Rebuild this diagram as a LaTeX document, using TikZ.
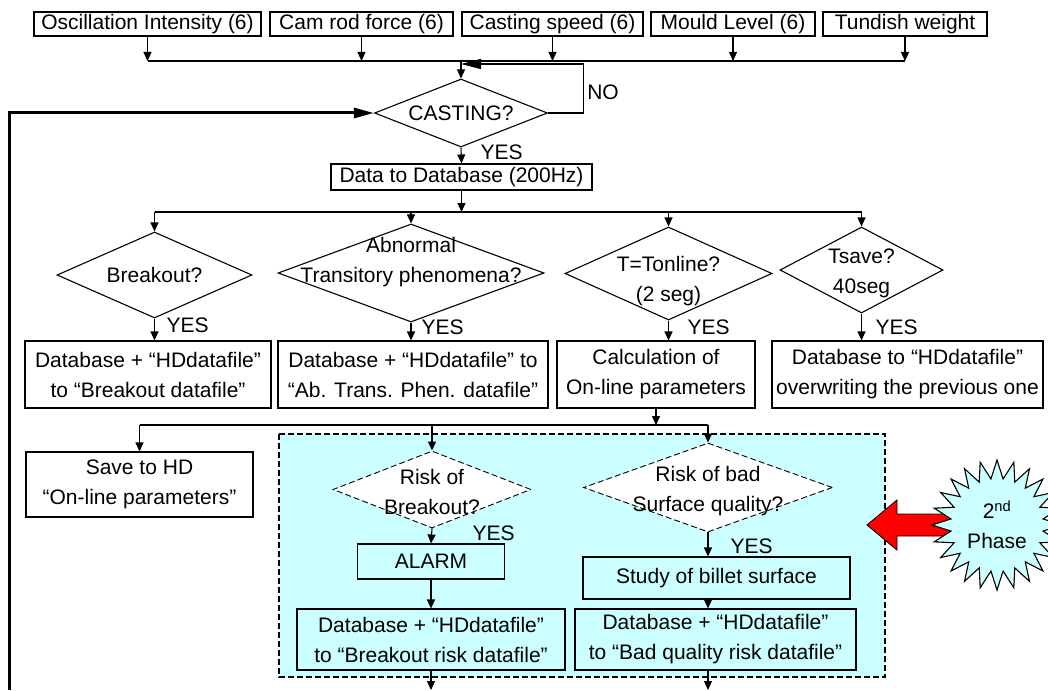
\documentclass[tikz,border=0pt]{standalone}
\usepackage{fontspec}
\setmainfont{Liberation Sans}
\usetikzlibrary{shapes.geometric,arrows.meta}
\definecolor{phasecyan}{HTML}{CCFFFF}

\begin{document}
\begin{tikzpicture}[x=1pt,y=-1pt,line width=1.1pt,
    font=\fontsize{21}{30}\selectfont,>={Triangle[length=9pt,width=8pt]}]

    \tikzset{boxstyle/.style={draw,shape=rectangle,inner sep=0pt,align=center},
        topbox/.style={boxstyle,minimum height=24pt,text height=15pt,text depth=4pt},
        decision/.style={draw,shape=diamond,inner sep=0pt,fill=white},
        riskdecision/.style={decision,line width=0.9pt,dash pattern=on 6pt off 3pt},
        yeslabel/.style={anchor=west,inner sep=0pt},
        every label/.style={align=center,inner sep=0pt},
        bigarrow/.style={-{Triangle[length=20pt,width=10pt]}}}

    \useasboundingbox (0,0) rectangle (1048,690);

    % 2nd phase area
    \draw[fill=phasecyan,line width=1.6pt,dash pattern=on 6pt off 3pt] (279,434) rectangle (885,677);

    \node[topbox,minimum width=227pt] (osc) at (147.5,24) {Oscillation Intensity (6)};
    \node[topbox,minimum width=183pt] (cam) at (361.5,24) {Cam rod force (6)};
    \node[topbox,minimum width=181pt] (speed) at (552.5,24) {Casting speed (6)};
    \node[topbox,minimum width=164pt] (mould) at (733,24) {Mould Level (6)};
    \node[topbox,minimum width=164pt] (tundish) at (905,24) {Tundish weight};
    \coordinate (bus1) at (0,61);

    \node[decision,minimum width=173pt,minimum height=68pt,label=center:CASTING?] (cast) at (461,113) {};
    \coordinate (loopend) at (461,64);
    \coordinate (fb) at (9,690);
    \node (no) at (603,92) {NO};
    \node[yeslabel] (yes0) at (480,152) {YES};

    \node[boxstyle,minimum width=261pt,minimum height=26pt] (data) at (461.5,177) {Data to Database (200Hz)};
    \coordinate (bus2) at (0,212);

    \node[decision,minimum width=195pt,minimum height=86pt,label=center:Breakout?] (brk) at (154.5,275) {};
    \node[decision,minimum width=266pt,minimum height=98pt,
        label={[yshift=11pt]center:{Abnormal\\Transitory phenomena?}}] (abn) at (411,273) {};
    \node[decision,minimum width=207pt,minimum height=93pt,
        label={[yshift=-8pt]center:{T=Tonline?\\(2 seg)}}] (ton) at (668.5,273.5) {};
    \node[decision,minimum width=163pt,minimum height=86pt,
        label={[yshift=-3pt]center:{Tsave?\\40seg}}] (tsv) at (861.5,270) {};
    \node[yeslabel] (yes1) at (166,325) {YES};
    \node[yeslabel] (yes2) at (421,327) {YES};
    \node[yeslabel] (yes3) at (687,327) {YES};
    \node[yeslabel] (yes4) at (875,327) {YES};

    \node[boxstyle,minimum width=246pt,minimum height=67pt] (dbA) at (148,374.5) {Database + “HDdatafile”\\to “Breakout datafile”};
    \node[boxstyle,minimum width=270pt,minimum height=67pt] (dbB) at (413,374.5) {Database + “HDdatafile” to\\“Ab. Trans. Phen. datafile”};
    \node[boxstyle,minimum width=198pt,minimum height=67pt] (calc) at (656,374.5) {Calculation of\\On-line parameters};
    \node[boxstyle,minimum width=271pt,minimum height=67pt] (dbD) at (907.5,374.5) {Database to “HDdatafile”\\overwriting the previous one};
    \coordinate (bus3) at (0,425);

    \node[boxstyle,minimum width=227pt,minimum height=65pt] (save) at (139.5,484.5) {Save to HD\\“On-line parameters”};
    \node[riskdecision,minimum width=198pt,minimum height=77pt,
        label={[yshift=-2pt]center:{Risk of\\Breakout?}}] (rbo) at (432,489.5) {};
    \node[riskdecision,minimum width=249pt,minimum height=89pt,
        label={[yshift=-4pt]center:{Risk of bad\\Surface quality?}}] (rbq) at (708,487.5) {};
    \node[yeslabel] (yes5) at (472,533) {YES};
    \node[yeslabel] (yes6) at (730,546) {YES};

    \node[boxstyle,minimum width=147pt,minimum height=35pt] (alarm) at (431,561.5) {ALARM};
    \node[boxstyle,minimum width=268pt,minimum height=61pt] (dbR) at (431,639.5) {Database + “HDdatafile”\\to “Breakout risk datafile”};
    \node[boxstyle,minimum width=267pt,minimum height=42pt] (study) at (716.5,578) {Study of billet surface};
    \node[boxstyle,minimum width=281pt,minimum height=61pt] (dbQ) at (715.5,639.5) {Database + “HDdatafile”\\to “Bad quality risk datafile”};
    \coordinate (out) at (0,690);

    % 2nd phase marker
    \draw[fill=red,line width=0.9pt] (867,525) -- (897,500) -- (897,514) -- (960,514) -- (960,536) -- (897,536) -- (897,550) -- cycle;
    \node[star,star points=24,star point ratio=1.4,minimum size=130pt,inner sep=0pt,
        draw,fill=phasecyan,align=center] (phase) at (997,525) {2\textsuperscript{nd}\\Phase};

    \draw (osc.south |- bus1) -- (tundish.south |- bus1);
    \draw (brk.north |- bus2) -- (tsv.north |- bus2);
    \draw (save.north |- bus3) -- (rbq.north |- bus3);
    \draw[bigarrow] (cast.east) -- ++(35,0) |- (loopend);
    \draw[bigarrow,line width=3pt] (fb) |- (cast.west);

    \begin{scope}[every path/.style={->}]
        \draw (osc.south) -- (osc.south |- bus1);
        \draw (cam.south) -- (cam.south |- bus1);
        \draw (speed.south) -- (speed.south |- bus1);
        \draw (mould.south) -- (mould.south |- bus1);
        \draw (tundish.south) -- (tundish.south |- bus1);
        \draw (cast.north |- bus1) -- (cast.north);
        \draw (cast.south) -- (data.north);
        \draw (data.south) -- (data.south |- bus2);
        \draw (brk.north |- bus2) -- (brk.north);
        \draw (abn.north |- bus2) -- (abn.north);
        \draw (ton.north |- bus2) -- (ton.north);
        \draw (tsv.north |- bus2) -- (tsv.north);
        \draw (brk.south) -- (brk.south |- dbA.north);
        \draw (abn.south) -- (abn.south |- dbB.north);
        \draw (ton.south) -- (ton.south |- calc.north);
        \draw (tsv.south) -- (tsv.south |- dbD.north);
        \draw (calc.south) -- (calc.south |- bus3);
        \draw (save.north |- bus3) -- (save.north);
        \draw (rbo.north |- bus3) -- (rbo.north);
        \draw (rbq.north |- bus3) -- (rbq.north);
        \draw (rbo.south) -- (alarm.north);
        \draw (alarm.south) -- (dbR.north);
        \draw (rbq.south) -- (rbq.south |- study.north);
        \draw (rbq.south |- study.south) -- (rbq.south |- dbQ.north);
        \draw (dbR.south) -- (dbR.south |- out);
        \draw (rbq.south |- dbQ.south) -- (rbq.south |- out);
    \end{scope}
\end{tikzpicture}
\end{document}
